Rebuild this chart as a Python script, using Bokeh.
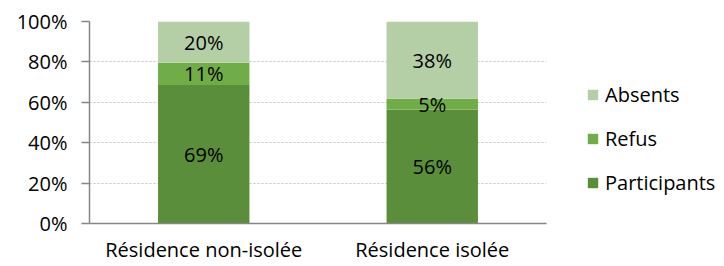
from bokeh.plotting import figure
from bokeh.models import (ColumnDataSource, FactorRange, Range1d, FixedTicker,
                          PrintfTickFormatter, Legend, LegendItem)
from bokeh.core.properties import value
from bokeh.embed import file_html
from bokeh.resources import INLINE

categories = ["Résidence non-isolée", "Résidence isolée"]
series_names = ["Participants", "Refus", "Absents"]
participants = [68.6, 56.4]
refus = [11.0, 5.4]
absents = [20.4, 38.2]
y_ticks = [0, 20, 40, 60, 80, 100]

colors = ["#5B8E3A", "#70AD47", "#B4CFA6"]
FONT = "Open Sans"
FS = "20px"

src = ColumnDataSource(dict(cat=categories, Participants=participants,
                            Refus=refus, Absents=absents))

p = figure(x_range=FactorRange(*categories, range_padding=0),
           y_range=Range1d(0, 100),
           frame_width=457, frame_height=202, output_backend="svg",
           toolbar_location=None,
           min_border_left=89, min_border_right=170, min_border_top=21,
           min_border_bottom=35)
p.outline_line_color = None
p.background_fill_color = "white"

rs = p.vbar_stack(series_names, x="cat", width=0.4, color=colors, line_color=None,
                  source=src)

# segment labels
lx, ly, lt = [], [], []
for i, c in enumerate(categories):
    base = 0
    for vals in (participants, refus, absents):
        v = vals[i]
        lx.append(c)
        ly.append(base + v / 2)
        lt.append(f"{round(v)}%")
        base += v
p.text(x="x", y="y", text="t", source=ColumnDataSource(dict(x=lx, y=ly, t=lt)),
       text_align="center", text_baseline="middle", text_font=value(FONT),
       text_font_size=FS, text_color="#000000")

# axes
p.yaxis.ticker = FixedTicker(ticks=y_ticks)
p.yaxis.formatter = PrintfTickFormatter(format="%d%%")
p.yaxis.major_tick_out = 8
p.yaxis.major_tick_in = 0
p.yaxis.minor_tick_line_color = None
p.yaxis.axis_line_color = "#868686"
p.yaxis.major_tick_line_color = "#868686"
p.yaxis.axis_line_width = 1.5
p.yaxis.major_tick_line_width = 1.5
p.yaxis.major_label_standoff = 14
p.xaxis.axis_line_color = "#868686"
p.xaxis.axis_line_width = 1.5
p.xaxis.major_tick_line_color = None
p.xaxis.minor_tick_line_color = None
p.xaxis.major_label_standoff = 6
for ax in (p.xaxis, p.yaxis):
    ax.major_label_text_font = FONT
    ax.major_label_text_font_size = FS
    ax.major_label_text_color = "#000000"

p.xgrid.grid_line_color = None
p.ygrid.grid_line_color = "#C4C4C4"
p.ygrid.grid_line_dash = "2 2"
p.ygrid.grid_line_width = 1.2

legend = Legend(items=[LegendItem(label="Absents", renderers=[rs[2]]),
                       LegendItem(label="Refus", renderers=[rs[1]]),
                       LegendItem(label="Participants", renderers=[rs[0]])],
                location=(40, 27), padding=0, margin=0, spacing=17,
                glyph_width=13, glyph_height=13, label_height=22,
                label_standoff=6, label_text_font=FONT, label_text_font_size=FS,
                label_text_color="#000000", border_line_color=None,
                background_fill_alpha=0)
p.add_layout(legend, "right")

open("out.html", "w").write(file_html(p, INLINE))
